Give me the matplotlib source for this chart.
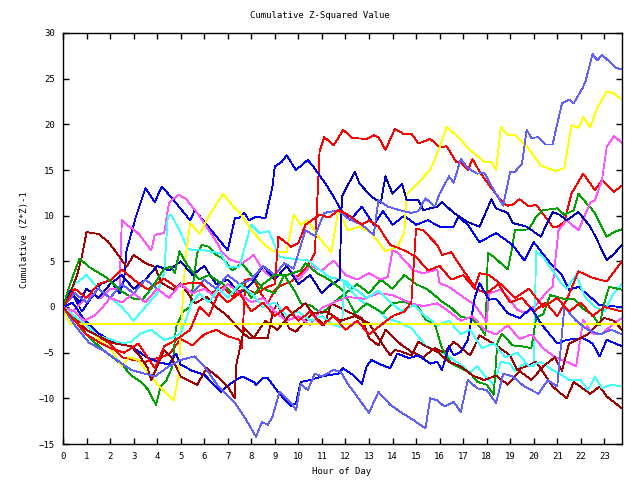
import matplotlib
matplotlib.use("Agg")
import matplotlib.pyplot as plt

# colours as seen in the picture (old gnuplot png palette)
RED = '#ff0000'
GREEN = '#00a000'
BLUE = '#0000ff'
NAVY = '#0000c0'
MAGENTA = '#ff55ff'
CYAN = '#40ffff'
DARKRED = '#a00000'
YELLOW = '#ffff00'
SLATE = '#6060ff'

# each series: (hour, cumulative value)
lb_top = [(0, 0), (0.5, 1.5), (1, 0.5), (1.5, 2.0), (2, 1.0), (2.5, 2.5), (3, 1.5), (3.5, 3.0), (4, 2.0),
          (4.5, 1.0), (5, 2.5), (5.5, 1.5), (6, 3.0), (6.5, 2.0), (7, 3.5), (7.5, 2.5), (8, 3.0), (8.5, 4.5),
          (9, 3.5), (9.4, 4.8), (9.8, 4.2), (10.3, 8.4), (10.7, 7.8), (11.1, 10.3), (11.7, 10.6), (12.1, 9.7),
          (12.7, 9.0), (13.2, 7.9), (13.4, 11.7), (13.8, 11.0), (14.3, 10.6), (14.8, 10.3), (15.1, 10.5),
          (15.4, 11.9), (15.8, 11.0), (16.0, 12.4), (16.4, 14.3), (16.6, 13.6), (16.9, 16.2), (17.2, 15.2),
          (17.6, 14.6), (17.9, 14.7), (18.3, 12.8), (18.7, 11.1), (19.0, 14.8), (19.2, 14.8), (19.5, 15.7),
          (19.7, 19.4), (19.9, 18.5), (20.2, 18.6), (20.5, 17.8), (20.8, 17.8), (21.2, 22.3), (21.5, 22.7),
          (21.7, 22.3), (22.1, 24.1), (22.2, 24.7), (22.5, 27.7), (22.7, 27.0), (22.9, 27.6), (23.2, 26.9),
          (23.5, 26.2), (23.75, 26.0)]

yel_top = [(0, 0), (0.5, -1), (1, -2), (1.5, -3.5), (2, -4.5), (2.5, -6.5), (2.8, -5.5), (3.2, -5.8),
           (3.7, -7.5), (4.2, -9), (4.7, -10.2), (4.9, -7.6), (5.0, -3), (5.2, 5.3), (5.4, 9.2), (5.8, 8),
           (6.2, 10), (6.8, 12.4), (7.3, 10.8), (7.5, 10.4), (8.0, 8.4), (8.5, 7), (8.9, 6.1), (9.5, 6),
           (9.8, 10.1), (10.1, 9.0), (10.4, 9.5), (10.9, 7.5), (11.4, 6), (11.7, 10.6), (12.1, 8.4),
           (12.6, 8.8), (13.1, 8.1), (13.7, 6.1), (14.2, 6.6), (14.5, 8.1), (14.6, 12.3), (15.2, 13.9),
           (15.6, 15.0), (15.9, 16.8), (16.3, 19.7), (16.8, 18.6), (17.2, 17.4), (17.9, 15.9), (18.2, 15.9),
           (18.4, 15.0), (18.6, 19.7), (18.9, 18.8), (19.2, 18.8), (19.7, 17.6), (20.3, 15.5), (20.9, 14.9),
           (21.3, 15.2), (21.6, 19.9), (21.9, 19.6), (22.1, 20.8), (22.4, 19.7), (22.7, 21.8), (23.1, 23.6),
           (23.4, 23.4), (23.75, 22.7)]

yel_flat = [(0, -0.3), (0.3, -1.86), (23.75, -1.86)]

red_top = [(0, 0), (0.5, -1), (1, -2.5), (1.5, -3.2), (2, -4), (2.5, -5.5), (3, -5.8), (3.5, -6), (4, -5.6),
           (4.5, -5.2), (5, -3.5), (5.5, -4.2), (6, -3), (6.5, -2.5), (7, -3.2), (7.5, -3.6), (7.6, -4.5),
           (7.75, 3.0), (8.1, 3.1), (8.4, 1.5), (8.7, 0.4), (9.0, 1.9), (9.3, 2.4), (9.7, 2.8), (10.1, 3.7),
           (10.4, 4.5), (10.7, 5.9), (10.9, 17.0), (11.1, 18.6), (11.5, 17.7), (11.9, 19.4), (12.3, 18.5),
           (12.9, 18.4), (13.2, 18.8), (13.4, 18.6), (13.7, 17.2), (14.1, 19.5), (14.5, 18.9), (14.8, 19.0),
           (15.1, 17.9), (15.6, 18.4), (16.0, 17.5), (16.3, 17.6), (16.7, 15.9), (16.9, 15.8), (17.2, 15.0),
           (17.4, 16.2), (17.7, 14.8), (18.2, 13.0), (18.7, 11.4), (18.9, 11.1), (19.1, 11.2), (19.4, 11.8),
           (19.8, 11.0), (20.1, 11.2), (20.8, 8.8), (21.0, 8.8), (21.3, 9.3), (21.6, 12.4), (22.1, 14.6),
           (22.6, 12.8), (22.9, 13.9), (23.4, 12.6), (23.75, 13.3)]

red_mid = [(0, 0), (0.5, 2), (1, 1), (1.5, 2.5), (2.05, 3.0), (2.5, 4.1), (3, 3), (3.6, 1.9), (4.3, 3.1),
           (4.8, 2.2), (5.3, 2.6), (5.85, 2.6), (6.3, 1.5), (6.8, 2.2), (7.2, 1.2), (7.7, 2.0), (8.2, 1.5),
           (8.7, 2.2), (9.0, 2.5), (9.15, 7.7), (9.7, 6.6), (10.0, 7.0), (10.3, 9.0), (10.9, 10.1),
           (11.3, 9.8), (11.7, 10.6), (12.1, 10.1), (12.7, 9.0), (13.0, 9.5), (13.4, 8.8), (13.9, 6.8),
           (14.5, 6.2), (15.0, 5.5), (15.5, 4.0), (16, 4.5), (16.5, 3), (17, 3.5), (17.5, 2), (18, 1.5),
           (18.5, 2.5), (19, 0.5), (19.5, 1), (20, -0.5), (20.5, 0.5), (21, -1), (21.4, 0.8), (21.9, 3.9),
           (22.5, 3.2), (23.1, 2.8), (23.75, 5.0)]

red_low = [(0, 0), (0.5, -1.5), (1, -3), (1.5, -3.8), (2, -4.5), (2.6, -5), (3.2, -4.0), (3.9, -6.7),
           (4.3, -4.3), (4.8, -3.6), (5.4, -2.5), (5.8, 0), (6.2, -1), (6.6, 1.5), (7, 0.5), (7.5, 1.5),
           (8, -0.5), (8.5, 0.5), (9, -1), (9.5, 0), (10, -1.5), (10.5, -0.5), (11, -2), (11.5, -1),
           (12, -2.5), (12.5, -1.5), (13, -3), (13.5, -2), (14, -1), (14.5, -0.5), (14.8, 0.5), (15.0, 8.6),
           (15.3, 8.4), (15.9, 6.8), (16.1, 5.7), (16.5, 6.0), (16.9, 4.4), (17.5, 2.2), (17.7, 3.7),
           (18.1, 3.5), (18.6, 2.5), (19.2, 1.0), (19.8, 2.0), (20.4, 0.0), (21, 1.0), (21.5, -0.5),
           (22, 0.5), (22.5, -1.0), (23, 0.0), (23.75, -0.5)]

green_a = [(0, 0), (0.3, 2.5), (0.7, 5.3), (1.1, 4.4), (1.8, 3.3), (2.5, 1.7), (3.0, 0.9), (3.4, 0.9),
           (3.75, 2.0), (4.3, 4.2), (4.6, 4.4), (4.75, 3.7), (4.95, 6.1), (5.3, 4.5), (5.8, 3.0), (6.2, 3.5),
           (6.8, 2.5), (7.2, 1.5), (7.6, 2.5), (8.0, 1.0), (8.5, 2.5), (9.0, 3.5), (9.5, 3.5), (10.1, 4.0),
           (10.3, 4.8), (10.8, 3.7), (11.3, 3.0), (11.9, 1.8), (12.4, -0.7), (12.9, 0.4), (13.6, -0.7),
           (14.0, 0.4), (14.5, 0.6), (15.1, 0.0), (15.4, -1.4), (15.8, -1.9), (16.1, -4.5), (16.5, -6.2),
           (16.9, -6.7), (17.3, -7.2), (17.6, -8.2), (18.0, -8.5), (18.3, -9.6), (18.45, -4.0),
           (18.65, -2.9), (19.1, -4.2), (19.5, -4.3), (19.9, -4.5), (20.1, -1.2), (20.4, -0.8), (20.7, 1.3),
           (21.0, 1.1), (21.4, 0.8), (21.7, 0.9), (22.1, -0.2), (22.5, -0.9), (22.8, -2.0), (22.95, 0.0),
           (23.2, 2.2), (23.75, 1.9)]

green_b = [(0, 0), (0.4, -1), (0.8, -2.5), (1.2, -3.5), (1.6, -4.5), (2.0, -5.3), (2.5, -6.3), (2.9, -7.5),
           (3.3, -8.2), (3.6, -9.0), (3.95, -10.7), (4.15, -8.7), (4.4, -8.0), (4.65, -6.5), (4.8, -2.2),
           (5.1, -0.5), (5.4, 0.0), (5.7, 5.9), (5.9, 6.8), (6.2, 6.6), (6.5, 5.7), (6.8, 5.3), (7.2, 4.0),
           (7.6, 4.8), (8.0, 3.5), (8.5, 2.0), (9.0, 1.5), (9.4, 3.5), (9.9, 1.5), (10.1, 0.4), (10.5, 0.2),
           (11.0, -0.7), (11.5, 0.5), (12.0, 1.5), (12.5, 2.5), (13.0, 1.5), (13.5, 3.0), (14.0, 2.0),
           (14.5, 3.5), (15.0, 2.5), (15.5, 1.9), (16.1, 0.6), (16.5, -0.1), (16.9, -1.1), (17.3, -1.2),
           (17.7, -2.1), (17.95, -3.1), (18.05, 5.9), (18.3, 5.5), (18.9, 4.1), (19.05, 6.1), (19.2, 8.4),
           (19.8, 8.5), (20.1, 9.9), (20.4, 10.6), (21.0, 10.8), (21.3, 10.1), (21.7, 10.6), (21.9, 12.4),
           (22.3, 11.2), (22.6, 10.3), (23.1, 7.7), (23.4, 8.2), (23.75, 8.5)]

blue_tall = [(0, 0), (0.4, 1.5), (0.8, -0.5), (1.2, 1.0), (1.6, 2.5), (2.0, 3.0), (2.4, 1.5), (2.6, 3.0),
             (2.7, 6.2), (3.1, 9.9), (3.5, 13.0), (3.9, 11.5), (4.2, 13.2), (4.7, 11.7), (5.4, 9.5),
             (5.6, 10.6), (6.3, 8.4), (7.0, 6.2), (7.3, 9.7), (7.5, 9.8), (7.7, 10.3), (7.9, 9.5), (8.2, 9.9),
             (8.6, 9.7), (8.9, 13.2), (9.0, 15.4), (9.3, 15.9), (9.5, 16.6), (9.9, 15.0), (10.4, 16.1),
             (10.6, 15.5), (11.1, 13.7), (11.5, 12.1), (11.8, 10.6), (12.2, 9.5), (12.7, 11.0), (13.2, 9.0),
             (13.6, 10.5), (14.0, 9.0), (14.5, 10.0), (15.0, 9.0), (15.5, 9.5), (16.0, 8.8), (16.6, 8.8),
             (16.8, 9.9), (17.2, 9.0), (17.7, 7.1), (18.4, 8.1), (19.1, 6.8), (19.6, 5.1), (20.0, 7.1),
             (20.7, 4.8), (21.2, 3.5), (21.5, 1.9), (21.9, 2.2), (22.4, 1.1), (22.8, 0.2), (23.75, 0.0)]

navy_mid = [(0, 0), (0.3, 1.8), (0.7, 0.5), (1.0, 2.0), (1.5, 1.0), (2.0, 2.5), (2.5, 3.5), (3.0, 2.0),
            (3.5, 3.0), (4.0, 4.5), (4.5, 4.0), (5.0, 5.0), (5.5, 3.5), (6.0, 4.5), (6.5, 2.5), (7.0, 3.0),
            (7.5, 1.5), (8.0, 2.5), (8.5, 4.5), (9.0, 3.0), (9.5, 4.5), (10.0, 2.5), (10.5, 3.5), (11.0, 1.5),
            (11.4, 2.5), (11.75, 3.0), (11.85, 12.1), (12.4, 14.8), (12.6, 13.5), (13.1, 12.1), (13.5, 11.4),
            (13.7, 14.3), (14.0, 12.4), (14.4, 13.5), (14.6, 11.7), (15.1, 11.7), (15.3, 10.6), (15.9, 11.0),
            (16.1, 11.5), (16.6, 10.3), (17.2, 9.3), (17.7, 8.8), (18.2, 11.8), (18.4, 10.8), (18.9, 10.3),
            (19.1, 9.2), (19.7, 8.8), (20.3, 7.7), (20.8, 10.4), (21.1, 10.1), (21.4, 9.5), (21.9, 10.4),
            (22.4, 8.8), (22.7, 7.3), (23.1, 5.1), (23.4, 5.8), (23.75, 6.8)]

blue_low = [(0, 0), (0.4, 0.5), (0.9, -1.4), (1.5, -2.9), (2.3, -4.0), (2.9, -4.3), (3.5, -5.4), (4.0, -6.0),
            (4.5, -6.3), (4.8, -5.1), (5.0, -6.3), (5.5, -7.0), (6.0, -7.4), (6.7, -9.3), (7.1, -8.4),
            (7.6, -7.6), (8.1, -8.2), (8.2, -8.5), (8.5, -7.8), (8.7, -7.8), (9.2, -9.5), (9.7, -10.9),
            (9.9, -10.5), (10.1, -8.2), (10.5, -8.0), (11.0, -7.6), (11.7, -7.3), (11.9, -6.7), (12.4, -7.6),
            (12.7, -8.4), (12.9, -6.5), (13.1, -5.8), (13.5, -6.3), (13.9, -6.7), (14.2, -5.1), (14.7, -5.6),
            (15.1, -5.3), (15.6, -6.2), (15.9, -6.0), (16.1, -6.9), (16.4, -4.3), (16.6, -5.3), (16.9, -4.9),
            (17.2, -3.6), (17.5, 1.1), (17.7, 2.6), (18.1, 0.8), (18.4, 0.9), (18.9, -0.7), (19.4, -1.2),
            (19.9, -0.1), (20.3, -1.8), (21.0, -4.0), (21.4, -3.6), (22.1, -3.4), (22.5, -4.0), (22.8, -5.4),
            (23.1, -3.6), (23.75, -4.3)]

lb_low = [(0, 0), (0.5, -2), (1.1, -3.9), (1.8, -4.9), (2.4, -6.0), (2.9, -6.9), (3.9, -7.6), (4.5, -6.5),
          (5.0, -5.8), (5.6, -5.4), (6.0, -6.5), (6.6, -8.7), (7.3, -10.5), (7.7, -12), (8.2, -14.2),
          (8.45, -12.6), (8.7, -12.9), (8.9, -12.0), (9.2, -9.3), (9.7, -10.5), (9.9, -11.3), (10.1, -8.4),
          (10.4, -9.1), (10.7, -7.3), (11.0, -7.6), (11.5, -6.9), (11.8, -7.1), (12.1, -8.4), (13.0, -11.6),
          (13.4, -9.3), (13.9, -10.7), (14.4, -11.6), (14.9, -12.4), (15.4, -13.3), (15.6, -10.0),
          (15.9, -10.2), (16.2, -10.9), (16.6, -10.4), (16.9, -11.5), (17.2, -8.0), (17.6, -8.9),
          (18.0, -9.1), (18.4, -10.5), (18.7, -7.3), (19.1, -7.6), (19.6, -8.7), (20.2, -9.5), (20.6, -8.0),
          (21.0, -8.7), (21.3, 0.0), (21.8, -1.5), (22.3, -2.5), (22.8, -3.0), (23.3, -2.5), (23.75, -3.0)]

mag_top = [(0, 0), (0.4, -0.5), (0.8, 0.5), (1.2, 1.5), (1.6, 1.0), (2.0, 2.0), (2.4, 2.0), (2.5, 9.5),
           (2.7, 9.0), (3.0, 8.5), (3.25, 7.9), (3.75, 6.2), (3.9, 7.9), (4.3, 8.1), (4.5, 11.4), (4.9, 12.3),
           (5.2, 11.9), (5.7, 10.3), (6.2, 8.4), (6.6, 6.8), (6.7, 6.2), (7.05, 5.3), (7.3, 5.0), (7.6, 4.8),
           (7.8, 5.1), (8.1, 5.7), (8.5, 4.0), (9.0, 3.0), (9.5, 4.5), (10.0, 3.0), (10.5, 4.5), (11.0, 4.0),
           (11.5, 5.1), (12.0, 3.5), (12.5, 3.0), (13.0, 3.7), (13.5, 3.0), (13.8, 3.3), (14.0, 6.2),
           (14.2, 6.0), (14.5, 5.1), (14.9, 4.0), (15.3, 3.7), (15.9, 4.1), (16.0, 2.6), (16.4, 2.2),
           (17.0, 1.1), (17.5, 0.2), (18.0, -1.6), (18.1, 1.5), (18.6, 1.9), (18.9, 1.1), (19.3, -0.3),
           (19.7, -0.7), (20.2, 0.5), (20.5, 1.5), (20.8, 2.2), (21.05, 8.4), (21.4, 9.5), (21.9, 8.4),
           (22.4, 11.4), (22.6, 11.7), (22.9, 13.9), (23.1, 17.5), (23.4, 18.7), (23.75, 18.0)]

mag_low = [(0, 0), (0.5, -0.5), (0.9, -1.5), (1.3, -1.0), (1.6, -0.3), (2.0, 1.0), (2.5, 0.5), (3.0, 1.5),
           (3.5, 0.5), (4.0, 2.0), (4.5, 1.0), (5.0, 2.5), (5.5, 1.5), (6.0, 2.0), (6.5, 1.0), (7.0, 2.5),
           (7.5, 1.5), (8.0, 0.5), (8.5, 1.0), (9.0, -0.5), (9.5, -1.5), (10.0, -1.0), (10.5, -2.0),
           (11.0, -0.1), (11.5, 0.5), (12.1, 1.1), (12.8, 0.9), (13.4, 1.5), (14.0, 1.3), (14.8, 0.4),
           (15.3, 0.1), (15.9, 0.4), (16.4, -0.5), (16.9, -1.5), (17.4, -1.0), (17.9, -2.5), (18.4, -3.0),
           (18.9, -2.0), (19.4, -3.5), (19.9, -3.0), (20.4, -4.5), (20.9, -5.5), (21.4, -6.0), (21.8, -6.5),
           (22.1, -1.4), (22.5, -2.9), (22.9, -3.0), (23.3, -2.0), (23.75, -1.2)]

cyan_a = [(0, 0), (0.5, 2.5), (1, 3.5), (1.5, 2), (2, 1), (2.5, 0), (3, -1.5), (3.5, 0), (4.0, 1.5),
          (4.3, 3.7), (4.45, 9.9), (4.6, 10.1), (5.0, 8.1), (5.3, 6.4), (5.5, 6.2), (6.0, 6.2), (6.4, 6.0),
          (6.7, 5.9), (7.0, 4.4), (7.5, 4.4), (7.8, 7.3), (8.0, 9.0), (8.35, 8.1), (8.75, 8.3), (9.2, 5.5),
          (9.7, 5.3), (10.4, 5.1), (11.3, 3.3), (11.9, 2.9), (12.4, 1.3), (12.8, 0.4), (13.4, -0.3),
          (13.7, -1.2), (14.2, -1.6), (14.8, -2.3), (15.4, -4.2), (15.9, -4.9), (16.3, -5.2), (16.7, -6.0),
          (17.0, -6.5), (17.3, -7.2), (17.6, -6.5), (18.0, -7.8), (18.3, -8.5), (18.6, -6.0), (19.0, -6.2),
          (19.2, -7.0), (19.6, -6.2), (20.0, -6.5), (20.1, 6.1), (20.4, 5.5), (20.8, 4.0), (21.2, 2.5),
          (21.4, 2.0), (21.8, 3.5), (22.2, 1.0), (22.6, 0.0), (23.0, -0.5), (23.4, 1.5), (23.75, 2.5)]

cyan_b = [(0, 0), (0.5, -1), (1, -2), (1.5, -3.2), (2.0, -3.5), (2.5, -4), (2.9, -3.8), (3.3, -2.9),
          (3.75, -2.5), (4.3, -3.6), (4.7, -3.3), (5.0, -2.9), (5.25, -1.2), (5.45, 0.4), (5.8, 1.5),
          (6.2, 0.5), (6.6, 2.0), (7.0, 1.0), (7.5, 2.5), (8.0, 1.5), (8.5, 0.0), (9.0, 0.5), (9.5, -1.0),
          (10.0, -0.5), (10.5, -1.5), (11.0, -1.0), (11.5, -2.0), (11.85, -2.2), (11.96, 2.9), (12.4, 2.0),
          (12.9, 1.0), (13.4, 1.8), (13.9, 0.5), (14.4, -0.5), (14.9, 0.2), (15.4, -1.0), (15.9, -2.0),
          (16.4, -1.5), (16.9, -3.0), (17.3, -2.5), (17.8, -4.5), (18.3, -4.0), (18.8, -5.5), (19.3, -5.0),
          (19.8, -6.5), (20.3, -6.0), (20.8, -6.9), (21.1, -7.3), (21.5, -8.0), (22.0, -8.0), (22.3, -9.1),
          (22.6, -7.6), (22.9, -8.9), (23.3, -8.5), (23.75, -8.7)]

dred_a = [(0, 0), (0.3, 1.5), (0.6, 3.5), (0.8, 5.5), (1.0, 8.2), (1.5, 8.0), (1.9, 7.2), (2.2, 6.2),
          (2.7, 4.4), (3.0, 5.7), (3.5, 4.8), (3.9, 4.4), (4.2, 2.6), (4.7, 1.9), (5.0, 2.6), (5.6, 0.4),
          (6.1, 1.1), (6.5, 0.0), (7.0, -1.0), (7.5, -2.5), (7.9, -3.4), (8.7, -3.4), (8.9, -0.7), (9.1, 0.4),
          (9.6, -2.3), (9.9, -2.7), (10.6, -0.7), (11.1, -2.0), (11.4, 0.4), (12.1, -0.5), (12.7, -1.2),
          (13.0, -3.4), (13.4, -4.2), (13.7, -2.5), (14.4, -4.2), (14.8, -4.9), (15.3, -5.5), (15.8, -4.5),
          (16.2, -5.0), (16.6, -3.8), (17.3, -5.3), (17.7, -3.1), (18.4, -4.2), (19.0, -5.3), (19.3, -6.9),
          (20.1, -6.0), (20.8, -8.7), (21.4, -10.0), (21.7, -8.2), (22.4, -9.5), (22.8, -8.7), (23.1, -9.8),
          (23.75, -11.1)]

dred_b = [(0, 0), (0.5, -1.5), (1.0, -2.5), (1.5, -3.2), (2.2, -4.0), (2.9, -4.3), (3.3, -5.5), (3.6, -6.7),
          (3.75, -8.0), (4.3, -4.7), (4.6, -5.5), (5.0, -7.6), (5.7, -8.5), (6.1, -6.7), (6.5, -7.5),
          (7.0, -8.7), (7.3, -10.0), (7.35, -6.5), (7.7, -2.3), (8.1, -3.4), (8.6, -1.5), (9.1, -2.5),
          (9.6, -1.0), (10.3, 0.4), (10.6, -0.7), (11.2, -0.5), (11.8, -1.5), (12.4, -1.0), (13.0, -1.8),
          (13.4, -3.4), (13.9, -5.3), (14.1, -4.7), (14.4, -4.9), (14.8, -5.3), (15.1, -3.8), (15.4, -4.3),
          (15.9, -4.9), (16.4, -6.0), (16.9, -6.5), (17.4, -7.5), (17.9, -8.0), (18.4, -7.5), (18.9, -8.5),
          (19.4, -7.0), (19.9, -8.0), (20.4, -6.5), (20.9, -5.5), (21.2, -7.0), (21.5, -4.0), (21.9, -3.5),
          (22.3, -3.0), (22.5, -2.5), (23.0, -1.2), (23.4, -1.5), (23.75, -2.5)]

series = [(red_top, RED), (green_b, GREEN), (blue_tall, BLUE), (mag_top, MAGENTA), (cyan_a, CYAN),
          (dred_a, DARKRED), (yel_top, YELLOW), (navy_mid, NAVY), (lb_top, SLATE),
          (red_mid, RED), (green_a, GREEN), (blue_low, BLUE), (mag_low, MAGENTA), (cyan_b, CYAN),
          (dred_b, DARKRED), (yel_flat, YELLOW), (lb_low, SLATE), (red_low, RED)]

hours = list(range(24))
yticks = list(range(-15, 31, 5))

fnt = dict(family='DejaVu Sans Mono', size=6.5)

fig = plt.figure(figsize=(6.4, 4.8), dpi=100)
ax = fig.add_axes([63 / 640, 1 - 444 / 480, 559 / 640, 411 / 480])

# thin 1px lines, no smoothing, like the gnuplot png output
for pts, col in series:
    xs = [p[0] for p in pts]
    ys = [p[1] for p in pts]
    ax.plot(xs, ys, color=col, lw=0.6, antialiased=False)

ax.set_xlim(0, 23.75)
ax.set_ylim(-15, 30)
ax.set_xticks(hours)
ax.set_yticks(yticks)
ax.tick_params(direction='in', length=4, width=1, top=True, right=True, pad=6)
for lbl in ax.get_xticklabels() + ax.get_yticklabels():
    lbl.set_fontfamily('DejaVu Sans Mono')
    lbl.set_fontsize(6.5)
for sp in ax.spines.values():
    sp.set_linewidth(1)

fig.text(0.5, 1 - 16 / 480, 'Cumulative Z-Squared Value', ha='center', va='center', **fnt)
fig.text(342 / 640, 1 - 471 / 480, 'Hour of Day', ha='center', va='center', **fnt)
fig.text(25 / 640, 1 - 240 / 480, 'Cumulative (Z*Z)-1', ha='center', va='center', rotation=90, **fnt)

fig.savefig('out.png', dpi=100)
